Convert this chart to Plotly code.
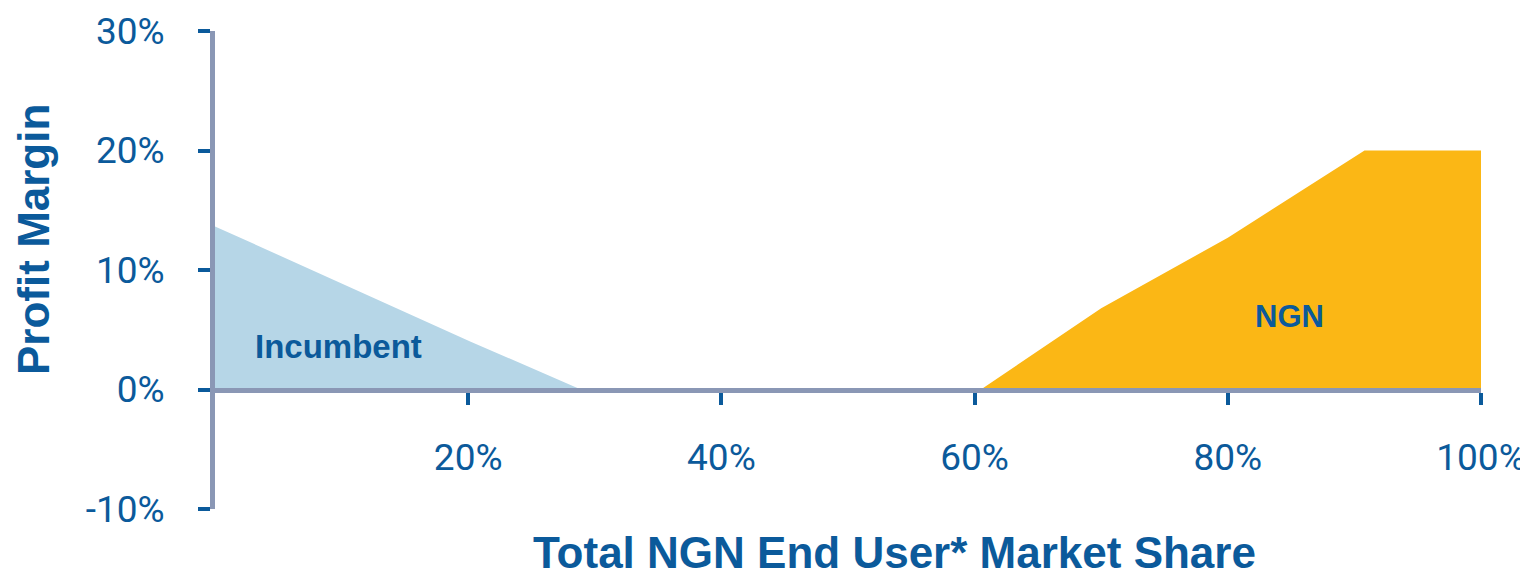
import plotly.graph_objects as go

# ---- data ----
incumbent_share = [0, 20.2, 28.9]
incumbent_margin = [13.65, 4.0, 0]

ngn_share = [60.5, 70, 80, 90.8, 100]
ngn_margin = [0, 6.8, 12.7, 20, 20]

x_tickvals = [20, 40, 60, 80, 100]
x_ticktext = ["20%", "40%", "60%", "80%", "100%"]
y_tickvals = [-10, 0, 10, 20, 30]
y_ticktext = ["-10%", "0%", "10%", "20%", "30%"]

TEXT = "#0B5A9B"
AXIS = "#8A97B5"
FONT = "Liberation Sans, Arial, sans-serif"
TICKFONT = "Roboto, Liberation Sans, sans-serif"

fig = go.Figure()
fig.add_trace(go.Scatter(
    x=incumbent_share, y=incumbent_margin, mode="lines", fill="tozeroy",
    fillcolor="#B6D6E7", line=dict(width=0, color="#B6D6E7"),
    hoverinfo="skip", showlegend=False))
fig.add_trace(go.Scatter(
    x=ngn_share, y=ngn_margin, mode="lines", fill="tozeroy",
    fillcolor="#FBB715", line=dict(width=0, color="#FBB715"),
    hoverinfo="skip", showlegend=False))

fig.update_layout(
    width=1520, height=568,
    margin=dict(l=207, r=47, t=23, b=67, autoexpand=False),
    paper_bgcolor="white", plot_bgcolor="white",
    font=dict(family=FONT, color=TEXT),
    xaxis=dict(
        range=[0, 100], anchor="free", position=0.25,
        showgrid=False, zeroline=False,
        showline=True, linecolor=AXIS, linewidth=5,
        ticks="outside", tickcolor=TEXT, tickwidth=4, ticklen=12,
        tickvals=x_tickvals, ticktext=x_ticktext,
        tickfont=dict(size=37, color=TEXT, family=TICKFONT),
        ticklabelstandoff=21, ticklabeloverflow="allow",
    ),
    yaxis=dict(
        range=[-10, 30],
        showgrid=False, zeroline=False,
        showline=True, linecolor=AXIS, linewidth=5,
        ticks="outside", tickcolor=TEXT, tickwidth=4, ticklen=12,
        tickvals=y_tickvals, ticktext=y_ticktext,
        tickfont=dict(size=37, color=TEXT, family=TICKFONT),
        ticklabelstandoff=26, ticklabeloverflow="allow",
    ),
    annotations=[
        dict(text="Total NGN End User* Market Share", xref="paper", yref="paper",
             x=0.537, y=-0.092, xanchor="center", yanchor="middle", showarrow=False,
             font=dict(size=44, color=TEXT, family=FONT, weight="bold")),
        dict(text="Profit Margin", xref="paper", yref="paper",
             x=-0.1429, y=0.563, xanchor="center", yanchor="middle", showarrow=False,
             textangle=-90,
             font=dict(size=44, color=TEXT, family=FONT, weight="bold")),
        dict(text="Incumbent", x=9.75, y=3.6, xref="x", yref="y", showarrow=False,
             xanchor="center", yanchor="middle",
             font=dict(size=33, color=TEXT, family=FONT, weight="bold")),
        dict(text="NGN", x=84.9, y=6.1, xref="x", yref="y", showarrow=False,
             xanchor="center", yanchor="middle",
             font=dict(size=31, color=TEXT, family=FONT, weight="bold")),
    ],
)

fig.write_html("out.html")
